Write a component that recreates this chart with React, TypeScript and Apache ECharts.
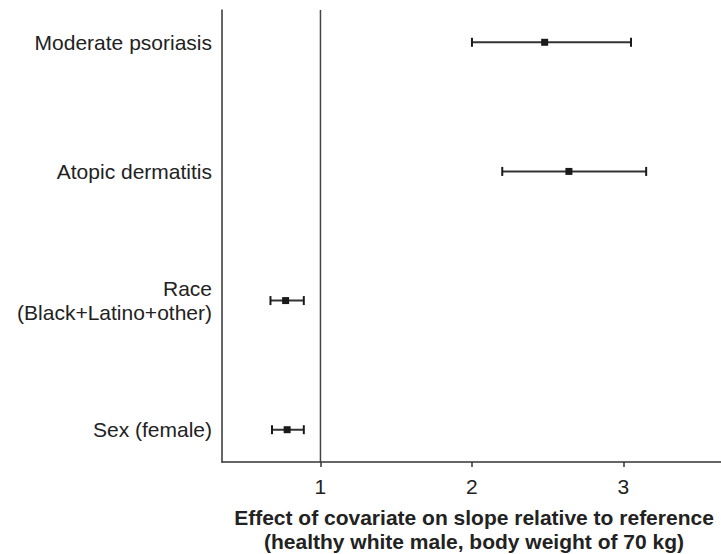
import React, { useEffect, useRef } from "react";
import * as echarts from "echarts";

const categories = [
  "Sex (female)",
  "Race\n(Black+Latino+other)",
  "Atopic dermatitis",
  "Moderate psoriasis",
];
const positions = [1, 2, 3, 4];
const estimates = [0.78, 0.77, 2.64, 2.48];
const lower = [0.68, 0.67, 2.2, 2.0];
const upper = [0.89, 0.89, 3.15, 3.05];
const xTicks = [1, 2, 3];
const referenceValue = 1;
const xTitle =
  "Effect of covariate on slope relative to reference\n(healthy white male, body weight of 70 kg)";

const FONT = "Liberation Sans, Arial, Helvetica, sans-serif";

export default function App() {
  const ref = useRef<HTMLDivElement>(null);

  useEffect(() => {
    if (!ref.current) return;
    const chart = echarts.init(ref.current, undefined, { renderer: "svg" });
    const data = positions.map((p, i) => [lower[i], upper[i], estimates[i], p]);

    chart.setOption({
      animation: false,
      backgroundColor: "#ffffff",
      textStyle: { fontFamily: FONT },
      grid: { left: 222, top: 10, width: 499, height: 452, containLabel: false },
      xAxis: {
        type: "value",
        min: 0.35,
        max: 3.644,
        axisLine: { show: true, lineStyle: { color: "#333333", width: 1.5 } },
        axisTick: {
          show: true,
          inside: false,
          length: 5,
          customValues: xTicks,
          lineStyle: { color: "#333333", width: 1.5 },
        },
        axisLabel: {
          customValues: xTicks,
          fontSize: 21,
          lineHeight: 21,
          color: "#222222",
          fontFamily: FONT,
          margin: 14,
        },
        splitLine: { show: false },
      },
      yAxis: {
        type: "value",
        min: 0.75,
        max: 4.25,
        axisLine: { show: true, lineStyle: { color: "#333333", width: 1.5 } },
        axisTick: { show: false },
        axisLabel: {
          customValues: positions,
          fontSize: 21,
          lineHeight: 24,
          color: "#222222",
          fontFamily: FONT,
          margin: 10,
          align: "right",
          formatter: (v: number) => categories[Math.round(v) - 1] ?? "",
        },
        splitLine: { show: false },
      },
      graphic: [
        {
          type: "text",
          x: 474,
          y: 505,
          style: {
            text: xTitle,
            fontSize: 21,
            fontWeight: "bold",
            fontFamily: FONT,
            lineHeight: 24,
            fill: "#222222",
            textAlign: "center",
            textVerticalAlign: "top",
          },
        },
      ],
      series: [
        {
          type: "line",
          data: [
            [referenceValue, 0.75],
            [referenceValue, 4.25],
          ],
          showSymbol: false,
          symbol: "none",
          lineStyle: { color: "#444444", width: 1.5 },
          silent: true,
        },
        {
          type: "custom",
          data,
          encode: { x: [0, 1, 2], y: 3 },
          renderItem: (params: any, api: any) => {
            const y = api.value(3);
            const lo = api.coord([api.value(0), y]);
            const hi = api.coord([api.value(1), y]);
            const est = api.coord([api.value(2), y]);
            const cap = 4.5;
            const s = 3.5;
            return {
              type: "group",
              children: [
                {
                  type: "line",
                  shape: { x1: lo[0], y1: lo[1], x2: hi[0], y2: hi[1] },
                  style: { stroke: "#333333", lineWidth: 2 },
                },
                {
                  type: "line",
                  shape: { x1: lo[0], y1: lo[1] - cap, x2: lo[0], y2: lo[1] + cap },
                  style: { stroke: "#1a1a1a", lineWidth: 2 },
                },
                {
                  type: "line",
                  shape: { x1: hi[0], y1: hi[1] - cap, x2: hi[0], y2: hi[1] + cap },
                  style: { stroke: "#1a1a1a", lineWidth: 2 },
                },
                {
                  type: "rect",
                  shape: { x: est[0] - s, y: est[1] - s, width: 2 * s, height: 2 * s },
                  style: { fill: "#1a1a1a" },
                },
              ],
            };
          },
        },
      ],
    });

    return () => chart.dispose();
  }, []);

  return (
    <div
      ref={ref}
      style={{ position: "fixed", left: 0, top: 0, width: 721, height: 554, background: "#fff" }}
    />
  );
}
